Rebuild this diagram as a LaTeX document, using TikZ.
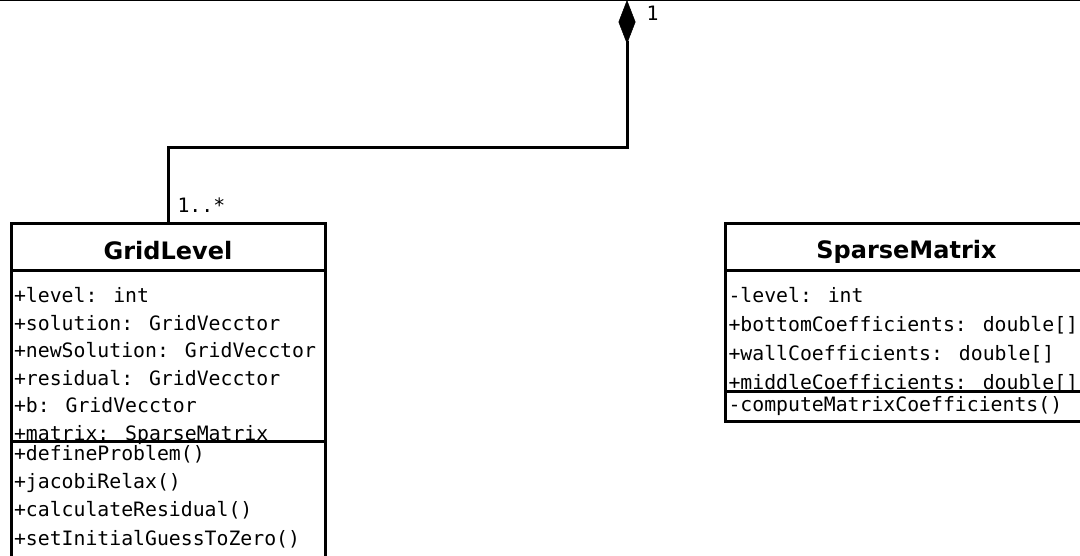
\documentclass[tikz,border=0pt]{standalone}
\usepackage{fontspec}
\setmainfont{DejaVu Sans}
\newfontfamily\monof{DejaVu Sans Mono}
\usetikzlibrary{arrows.meta,calc}
\begin{document}
\begin{tikzpicture}[x=1pt,y=-1pt,line width=3pt,
  classbox/.style={draw,line width=3pt,inner sep=0pt,outer sep=0pt,anchor=north west},
  mono/.style={font=\monof\fontsize{19.8}{24}\selectfont,inner sep=0pt,anchor=base west},
  ctitle/.style={font=\bfseries\fontsize{24}{28}\selectfont,inner sep=0pt,anchor=base},
  conn/.style={line width=3pt,-{Diamond[length=44pt,width=17pt,line width=0.5pt]}}]
\useasboundingbox (0,0) rectangle (1080,556);

% owner class (cut off above the frame)
\node[draw,line width=3pt,inner sep=0pt,outer sep=0pt,minimum width=1200pt,minimum height=100pt,anchor=south] (owner) at (540,0) {};
\coordinate (comp) at (627,0);

% GridLevel
\node[classbox,minimum width=314pt,minimum height=333pt] (grid) at (11,224) {};
\draw ($(grid.north west)+(0,47)$) -- ($(grid.north east)+(0,47)$);
\draw ($(grid.north west)+(0,217)$) -- ($(grid.north east)+(0,217)$);
\node[ctitle] (gridT) at (168,260) {GridLevel};
\node[mono] (g1) at (12.5,303) {+level: int};
\node[mono] (g2) at (12.5,330.4) {+solution: GridVecctor};
\node[mono] (g3) at (12.5,357.8) {+newSolution: GridVecctor};
\node[mono] (g4) at (12.5,385.2) {+residual: GridVecctor};
\node[mono] (g5) at (12.5,412.6) {+b: GridVecctor};
\node[mono] (g6) at (12.5,440) {+matrix: SparseMatrix};
\node[mono] (gm1) at (12.5,460) {+defineProblem()};
\node[mono] (gm2) at (12.5,488.3) {+jacobiRelax()};
\node[mono] (gm3) at (12.5,516.6) {+calculateResidual()};
\node[mono] (gm4) at (12.5,545) {+setInitialGuessToZero()};

% SparseMatrix
\node[classbox,minimum width=363pt,minimum height=197pt] (sparse) at (725,224) {};
\draw ($(sparse.north west)+(0,47)$) -- ($(sparse.north east)+(0,47)$);
\draw ($(sparse.north west)+(0,167)$) -- ($(sparse.north east)+(0,167)$);
\node[ctitle] (sparseT) at (906.5,259) {SparseMatrix};
\node[mono] (s1) at (727,303) {-level: int};
\node[mono] (s2) at (727,331.5) {+bottomCoefficients: double[]};
\node[mono] (s3) at (727,360) {+wallCoefficients: double[]};
\node[mono] (s4) at (727,389) {+middleCoefficients: double[]};
\node[mono] (sm1) at (727,411) {-computeMatrixCoefficients()};

% composition
\draw[conn] (grid.north) -- ++(0,-76) -| (comp);
\node[mono] (m1) at (645,21) {1};
\node[mono] (m2) at (176,213) {1..*};
\end{tikzpicture}
\end{document}
